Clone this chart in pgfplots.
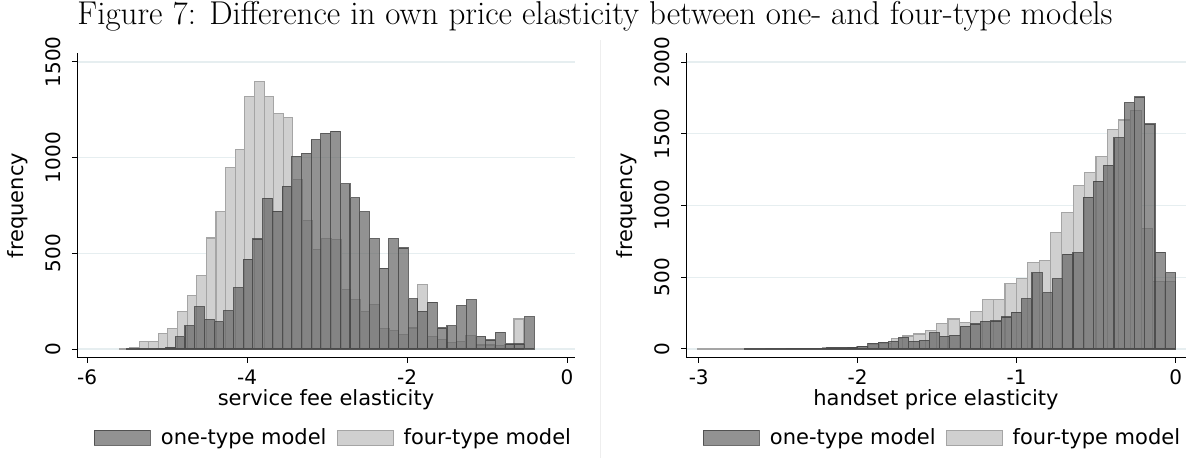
\documentclass[border=0pt]{standalone}
\usepackage{fontspec}
\newfontfamily\dejavu{DejaVu Sans}
\usepackage{pgfplots}
\usepackage{pgfplotstable}
\pgfplotsset{compat=1.18}

\definecolor{gridc}{RGB}{230,238,240}
\definecolor{darkfill}{RGB}{100,100,100}
\definecolor{darkedge}{RGB}{60,60,60}
\definecolor{lightfill}{RGB}{208,208,208}
\definecolor{lightedge}{RGB}{165,165,165}
\definecolor{sepc}{RGB}{238,238,238}

% left panel: service fee elasticity
\pgfplotstableread{
x y
-5.504 2
-5.383 3
-5.261 3
-5.140 4
-5.019 10
-4.898 63
-4.776 121
-4.655 220
-4.534 154
-4.412 142
-4.291 199
-4.170 320
-4.048 470
-3.927 575
-3.806 787
-3.685 720
-3.563 850
-3.442 1007
-3.321 1023
-3.199 1094
-3.078 1127
-2.957 1138
-2.835 863
-2.714 790
-2.593 717
-2.472 577
-2.350 423
-2.229 577
-2.108 528
-1.986 262
-1.865 196
-1.744 245
-1.622 110
-1.501 121
-1.380 227
-1.259 257
-1.137 66
-1.016 47
-0.895 87
-0.773 26
-0.652 26
-0.531 168
-0.410 0
}\SFone

\pgfplotstableread{
x y
-5.591 4
-5.471 5
-5.351 40
-5.230 37
-5.110 79
-4.990 105
-4.870 194
-4.750 278
-4.629 385
-4.509 580
-4.389 717
-4.269 949
-4.149 1044
-4.028 1320
-3.908 1400
-3.788 1320
-3.668 1231
-3.548 1210
-3.427 888
-3.307 671
-3.187 521
-3.067 577
-2.947 570
-2.826 311
-2.706 259
-2.586 196
-2.466 231
-2.346 105
-2.225 98
-2.105 75
-1.985 110
-1.865 339
-1.745 63
-1.624 52
-1.504 35
-1.384 40
-1.264 72
-1.144 21
-1.023 21
-0.903 16
-0.783 23
-0.663 157
-0.543 0
}\SFfour

% right panel: handset price elasticity
\pgfplotstableread{
x y
-2.7100 2
-2.6455 2
-2.5810 4
-2.5165 4
-2.4520 5
-2.3875 5
-2.3230 5
-2.2585 6
-2.1940 9
-2.1295 9
-2.0650 12
-2.0005 19
-1.9360 40
-1.8715 47
-1.8070 53
-1.7425 80
-1.6780 52
-1.6135 60
-1.5490 112
-1.4845 88
-1.4200 95
-1.3555 158
-1.2910 174
-1.2265 193
-1.1620 195
-1.0975 223
-1.0330 256
-0.9685 349
-0.9040 530
-0.8395 391
-0.7750 488
-0.7105 661
-0.6460 670
-0.5815 1058
-0.5170 1170
-0.4525 1279
-0.3880 1472
-0.3235 1717
-0.2590 1756
-0.1945 1568
-0.1300 675
-0.0655 530
-0.0010 0
}\HPone

\pgfplotstableread{
x y
-3.0070 2
-2.9354 0
-2.8638 2
-2.7922 2
-2.7206 2
-2.6490 3
-2.5774 4
-2.5058 4
-2.4342 4
-2.3626 5
-2.2910 5
-2.2194 8
-2.1478 10
-2.0762 12
-2.0046 20
-1.9330 30
-1.8614 40
-1.7898 74
-1.7182 90
-1.6466 104
-1.5750 130
-1.5034 177
-1.4318 209
-1.3602 186
-1.2886 263
-1.2170 342
-1.1454 342
-1.0738 454
-1.0022 488
-0.9306 600
-0.8590 619
-0.7874 814
-0.7158 949
-0.6442 1137
-0.5726 1233
-0.5010 1344
-0.4294 1528
-0.3578 1596
-0.2862 1661
-0.2146 837
-0.1430 470
-0.0714 470
0.0002 0
}\HPfour

\pgfplotsset{
  histo/.style={
    scale only axis,
    height=152.5pt,
    axis x line*=bottom,
    axis y line*=left,
    axis line style={line width=0.5pt, black},
    tick style={line width=0.5pt, black},
    tick align=outside,
    major tick length=2.5pt,
    ymajorgrids,
    grid style={gridc, line width=0.6pt},
    scaled ticks=false,
    /pgf/number format/assume math mode=true,
    /pgf/number format/set thousands separator={},
    tick label style={font=\dejavu\fontsize{10}{12}\selectfont},
    yticklabel style={rotate=90, anchor=south, inner sep=0pt},
    yticklabel shift=5.5pt,
    ylabel={frequency},
    every axis y label/.style={at={(axis description cs:0,0.5)}, xshift=-29.5pt, rotate=90, anchor=center, font=\dejavu\fontsize{10.5}{12}\selectfont},
    every axis x label/.style={at={(axis description cs:0.5,0)}, anchor=center, yshift=-21pt, font=\dejavu\fontsize{10.5}{12}\selectfont},
    legend columns=2,
    legend style={draw=none, fill=none, anchor=center,
      font=\dejavu\fontsize{10.5}{12}\selectfont,
      nodes={inner sep=5pt},
      /tikz/every even column/.append style={column sep=0pt},
      inner sep=0pt},
  },
  darkbar/.style={ybar interval, fill=darkfill, fill opacity=0.7, draw=darkedge, draw opacity=0.75, line width=0.55pt,
    legend image code/.code={\draw[#1] (0pt,-3.75pt) rectangle (28pt,3.75pt);}},
  lightbar/.style={ybar interval, fill=lightfill, draw=lightedge, line width=0.55pt,
    legend image code/.code={\draw[#1] (0pt,-3.75pt) rectangle (28pt,3.75pt);}},
}

\begin{document}
\begin{tikzpicture}
\useasboundingbox (0,0) rectangle (596pt,229pt);
\draw[sepc, line width=0.5pt] (300pt,0pt) -- (300pt,209pt);
\node[font=\fontsize{16.5}{19}\selectfont, anchor=center] at (297.5pt,221pt) {Figure 7: Difference in own price elasticity between one- and four-type models};

\begin{axis}[histo,
  at={(38.5pt,50pt)}, anchor=south west,
  width=249pt,
  xmin=-6.127, xmax=0.1, ymin=-47, ymax=1547,
  xtick={-6,-4,-2,0}, ytick={0,500,1000,1500},
  xlabel={service fee elasticity},
  legend style={at={(axis description cs:0.523,-0.262)}},
]
\addplot[lightbar, forget plot] table {\SFfour};
\addplot[darkbar] table {\SFone};
\addlegendentry{one-type model}
\addlegendimage{lightbar}
\addlegendentry{four-type model}
\end{axis}

\begin{axis}[histo,
  at={(343pt,50pt)}, anchor=south west,
  width=250pt,
  xmin=-3.08, xmax=0.065, ymin=-63, ymax=2063,
  xtick={-3,-2,-1,0}, ytick={0,500,1000,1500,2000},
  xlabel={handset price elasticity},
  legend style={at={(axis description cs:0.521,-0.262)}},
]
\addplot[lightbar, forget plot] table {\HPfour};
\addplot[darkbar] table {\HPone};
\addlegendentry{one-type model}
\addlegendimage{lightbar}
\addlegendentry{four-type model}
\end{axis}
\end{tikzpicture}
\end{document}
